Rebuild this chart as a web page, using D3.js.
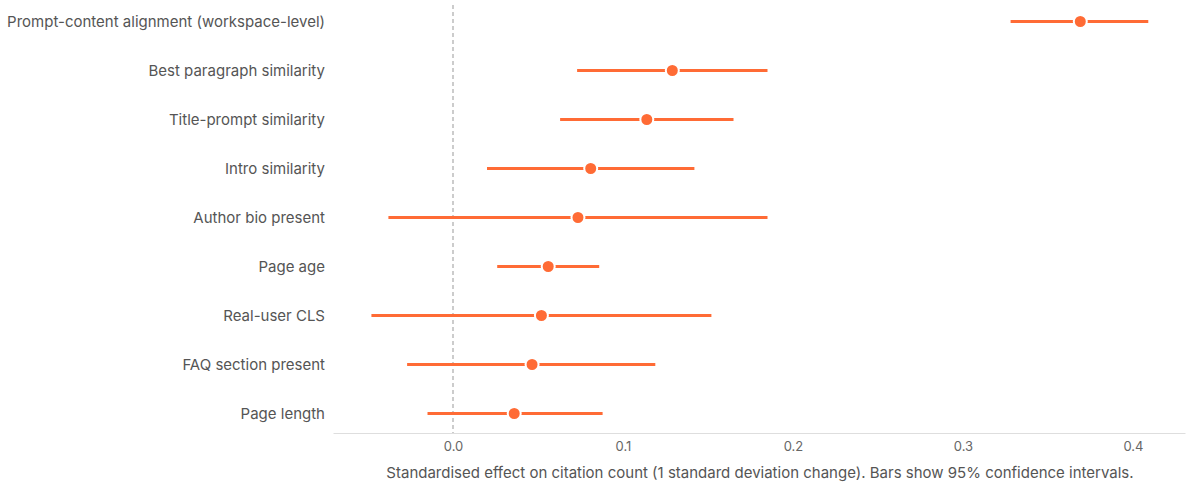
<!DOCTYPE html>
<html>
<head>
<meta charset="utf-8">
<script src="https://cdn.jsdelivr.net/npm/d3@7"></script>
<style>
  body { margin: 0; background: #fff; }
  svg text { font-family: Inter, "Noto Sans", sans-serif; }
</style>
</head>
<body>
<div id="chart"></div>
<script>
// Data
const labels = [
  "Prompt-content alignment (workspace-level)",
  "Best paragraph similarity",
  "Title-prompt similarity",
  "Intro similarity",
  "Author bio present",
  "Page age",
  "Real-user CLS",
  "FAQ section present",
  "Page length"
];
const estimates = [0.369, 0.129, 0.114, 0.081, 0.0735, 0.056, 0.052, 0.0465, 0.036];
const lower = [0.328, 0.073, 0.063, 0.020, -0.038, 0.026, -0.048, -0.027, -0.015];
const upper = [0.409, 0.185, 0.165, 0.142, 0.185, 0.086, 0.152, 0.119, 0.088];
const xTicks = [0.0, 0.1, 0.2, 0.3, 0.4];

const rows = labels.map((l, i) => ({ label: l, est: estimates[i], lo: lower[i], hi: upper[i] }));

const W = 1192, H = 486;
const margin = { top: 0, right: 7, bottom: 53, left: 333 };
const width = W - margin.left - margin.right;
const height = H - margin.top - margin.bottom;
const color = "#ff6b35";

const svg = d3.select("#chart")
  .append("svg")
  .attr("width", W)
  .attr("height", H)
  .append("g")
  .attr("transform", `translate(${margin.left},${margin.top})`);

const x = d3.scaleLinear()
  .domain([-0.0706, 0.4306])
  .range([0, width]);

const y = d3.scalePoint()
  .domain(labels)
  .range([21.5, 413.5]);

// Axis
const xAxis = svg.append("g")
  .attr("transform", `translate(0,${height})`)
  .call(d3.axisBottom(x).tickValues(xTicks).tickFormat(d3.format(".1f")).tickSize(0).tickPadding(9));
xAxis.select(".domain").attr("stroke", "#dedede");
xAxis.selectAll("text").attr("fill", "#666").style("font-size", "13px");

// Zero line
svg.append("line")
  .attr("x1", x(0)).attr("x2", x(0))
  .attr("y1", 5).attr("y2", height)
  .attr("stroke", "#999")
  .attr("stroke-width", 1)
  .attr("stroke-dasharray", "4,3");

// Row labels
svg.selectAll(".label")
  .data(rows)
  .enter().append("text")
  .attr("x", -8)
  .attr("y", d => y(d.label))
  .attr("dy", "0.35em")
  .attr("text-anchor", "end")
  .attr("fill", "#555")
  .style("font-size", "15px")
  .text(d => d.label);

// Confidence intervals
svg.selectAll(".ci")
  .data(rows)
  .enter().append("line")
  .attr("x1", d => x(d.lo))
  .attr("x2", d => x(d.hi))
  .attr("y1", d => y(d.label))
  .attr("y2", d => y(d.label))
  .attr("stroke", color)
  .attr("stroke-width", 3);

// Points
svg.selectAll(".pt")
  .data(rows)
  .enter().append("circle")
  .attr("cx", d => x(d.est))
  .attr("cy", d => y(d.label))
  .attr("r", 6.5)
  .attr("fill", color)
  .attr("stroke", "#fff")
  .attr("stroke-width", 2);

// Axis title
svg.append("text")
  .attr("x", (390 + 1130) / 2 - margin.left)
  .attr("y", 478)
  .attr("text-anchor", "middle")
  .attr("fill", "#555")
  .style("font-size", "15px")
  .text("Standardised effect on citation count (1 standard deviation change). Bars show 95% confidence intervals.");
</script>
</body>
</html>
